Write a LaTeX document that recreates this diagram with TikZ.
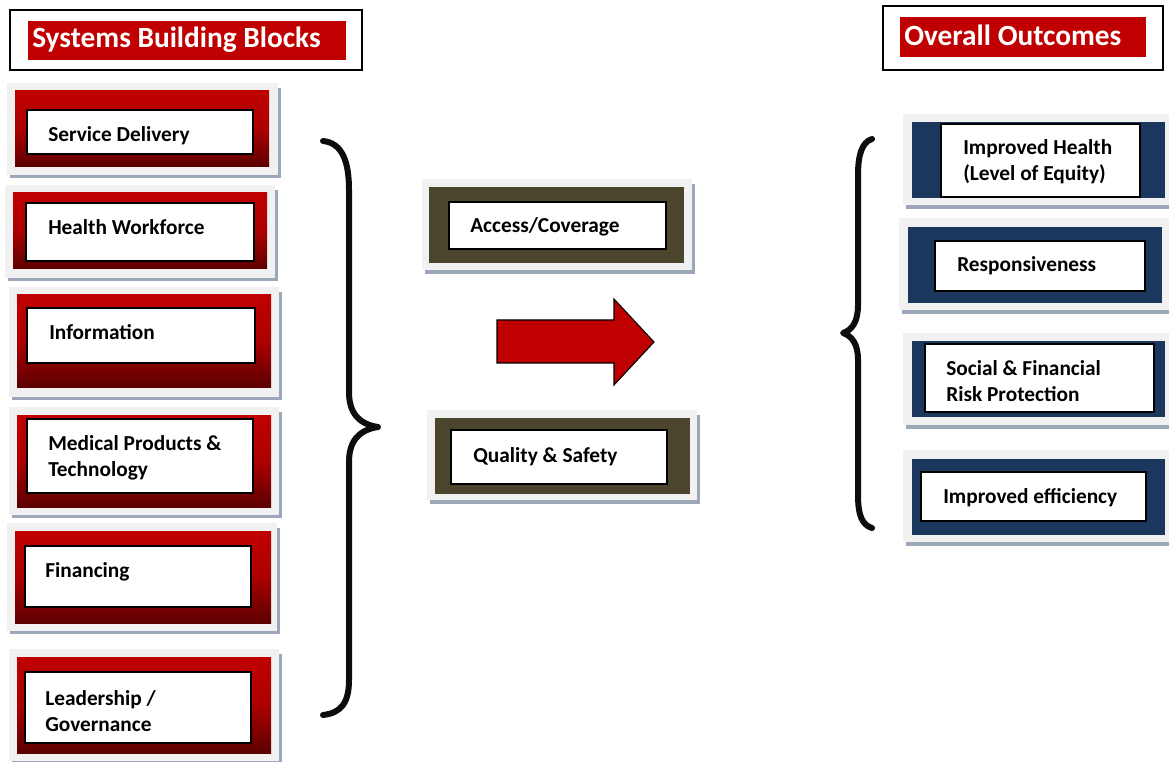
\documentclass[tikz,border=0pt]{standalone}
\usepackage{fontspec}
\setmainfont{Carlito}
\definecolor{cred}{HTML}{C00000}
\definecolor{cdark}{HTML}{5C0000}
\definecolor{panelc}{HTML}{F1F1F1}
\definecolor{shadc}{HTML}{9CA8B9}
\definecolor{olivec}{HTML}{4B452E}
\definecolor{navyc}{HTML}{1B375E}
\begin{document}
\begin{tikzpicture}[x=0.75pt,y=-0.75pt,
  panel/.style={fill=panelc},
  shad/.style={fill=shadc},
  redg/.style={top color=cred, bottom color=cdark, middle color=cred!80!cdark},
  olive/.style={fill=olivec},
  navy/.style={fill=navyc},
  wbox/.style={fill=white, draw=black, line width=1.5pt},
  lbl/.style={anchor=base west, align=left, inner sep=0pt, font=\fontsize{16}{19.5}\selectfont\bfseries},
  ttl/.style={anchor=base west, inner sep=0pt, text=white, font=\fontsize{22}{26}\selectfont\bfseries},
  tbox/.style={draw=black, line width=1.5pt, fill=white},
  brace/.style={draw=black!95, line width=4.5pt, line cap=round, line join=round}]
\useasboundingbox (0,0) rectangle (1169,762);
% titles
\draw[tbox] (10,10) rectangle (362,70);
\fill[cred] (28,21) rectangle (346,60);
\node[ttl] (t1) at (32,48) {Systems Building Blocks};
\draw[tbox] (883,6) rectangle (1163,70);
\fill[cred] (900,17) rectangle (1146,57);
\node[ttl] (t2) at (904,46) {Overall Outcomes};
% left blocks
\fill[shad] (10,88) rectangle (281,178);
\fill[panel] (7,83) rectangle (278,175);
\fill[redg] (15,91) rectangle (269,167);
\draw[wbox] (27,110) rectangle (253,154);
\node[lbl] (sd) at (48,142) {Service Delivery};
\fill[shad] (8,190) rectangle (278,281);
\fill[panel] (5,185) rectangle (275,278);
\fill[redg] (13,193) rectangle (267,269);
\draw[wbox] (26,203) rectangle (254,261);
\node[lbl] (hw) at (48,235) {Health Workforce};
\fill[shad] (12,292) rectangle (282,400);
\fill[panel] (9,287) rectangle (279,397);
\fill[redg] (17,295) rectangle (271,387);
\draw[wbox] (27,308) rectangle (255,363);
\node[lbl] (inf) at (49,340) {Information};
\fill[shad] (12,412) rectangle (282,518);
\fill[panel] (9,407) rectangle (279,515);
\fill[redg] (17,415) rectangle (271,507);
\draw[wbox] (27,419) rectangle (253,493);
\node[lbl] (mp) at (48,476) {Medical Products \&\\Technology};
\fill[shad] (10,528) rectangle (280,634);
\fill[panel] (7,523) rectangle (277,631);
\fill[redg] (15,531) rectangle (271,623);
\draw[wbox] (25,546) rectangle (251,607);
\node[lbl] (fin) at (45,577) {Financing};
\fill[shad] (12,654) rectangle (282,764);
\fill[panel] (9,649) rectangle (279,761);
\fill[redg] (17,657) rectangle (271,753);
\draw[wbox] (25,672) rectangle (251,743);
\node[lbl] (lg) at (45,731) {Leadership /\\Governance};
% left brace
\draw[brace] (323,141) .. controls (343,143) and (349,163) .. (349,190) -- (349,392)
  .. controls (349,412) and (358,424) .. (378,427) .. controls (358,430) and (349,442) .. (349,462)
  -- (349,680) .. controls (349,703) and (341,713) .. (323,715);
% middle blocks
\fill[shad] (425,184) rectangle (695,274);
\fill[panel] (422,179) rectangle (692,270);
\fill[olive] (429,187) rectangle (684,263);
\draw[wbox] (449,202) rectangle (666,249);
\node[lbl] (ac) at (470,233) {Access/Coverage};
\fill[shad] (430,415) rectangle (700,504);
\fill[panel] (427,410) rectangle (697,500);
\fill[olive] (435,418) rectangle (690,494);
\draw[wbox] (451,430) rectangle (667,484);
\node[lbl] (qs) at (473,462) {Quality \& Safety};
% arrow
\draw[fill=cred, draw=black, line width=0.8pt, line join=miter]
  (497,320) -- (614,320) -- (614,299) -- (654,342) -- (614,385) -- (614,363) -- (497,363) -- cycle;
% right brace
\draw[brace] (872,139) .. controls (862,142) and (858,155) .. (858,175) -- (858,305)
  .. controls (858,322) and (852,330) .. (843,333) .. controls (852,336) and (858,344) .. (858,360)
  -- (858,495) .. controls (858,515) and (862,525) .. (872,528);
% right blocks
\fill[shad] (906,119) rectangle (1172,209);
\fill[panel] (903,114) rectangle (1169,205);
\fill[navy] (912,122) rectangle (1165,198);
\draw[wbox] (941,124) rectangle (1140,197);
\node[lbl] (ih) at (963,181) {Improved Health\\(Level of Equity)};
\fill[shad] (902,223) rectangle (1172,314);
\fill[panel] (899,218) rectangle (1169,310);
\fill[navy] (908,227) rectangle (1162,303);
\draw[wbox] (935,241) rectangle (1145,291);
\node[lbl] (rs) at (957,272) {Responsiveness};
\fill[shad] (906,338) rectangle (1172,429);
\fill[panel] (903,333) rectangle (1169,425);
\fill[navy] (912,341) rectangle (1165,417);
\draw[wbox] (925,344) rectangle (1154,412);
\node[lbl] (sf) at (946,402) {Social \& Financial\\Risk Protection};
\fill[shad] (906,455) rectangle (1172,546);
\fill[panel] (903,450) rectangle (1169,542);
\fill[navy] (912,459) rectangle (1165,535);
\draw[wbox] (921,472) rectangle (1146,521);
\node[lbl] (ie) at (943,503) {Improved efficiency};
\end{tikzpicture}
\end{document}
